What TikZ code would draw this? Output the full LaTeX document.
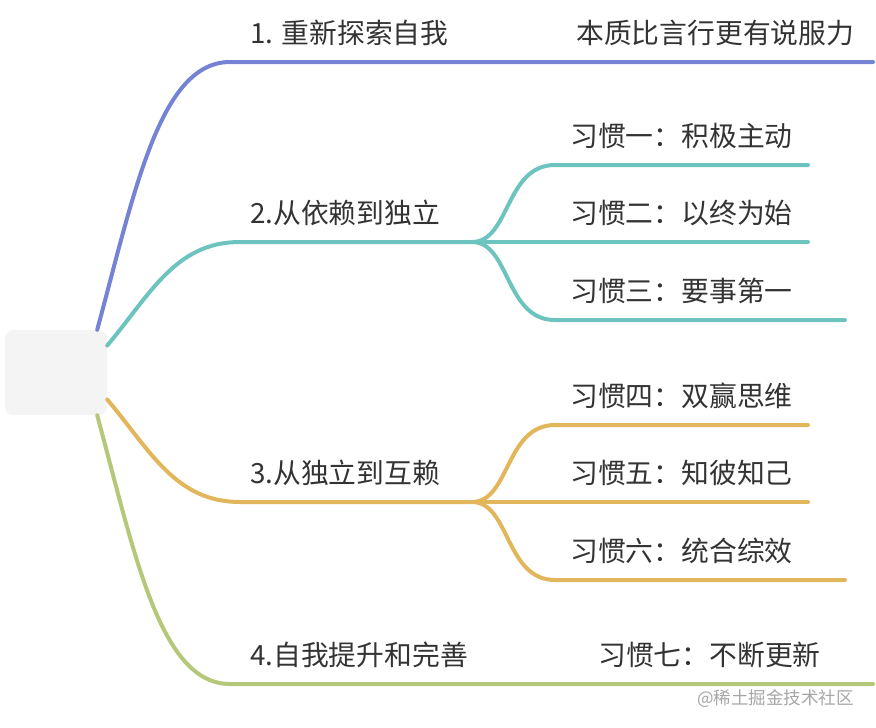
\documentclass[tikz,border=0pt]{standalone}
\usepackage{fontspec}
\usepackage{tikz}
\usetikzlibrary{calc, positioning}
\setmainfont{Noto Sans CJK SC}
\definecolor{inkDark}{HTML}{333333}
\definecolor{rootGrey}{HTML}{F4F4F4}
\definecolor{wmGrey}{HTML}{A6A6A6}
\definecolor{lineBlue}{HTML}{7483D4}
\definecolor{lineTeal}{HTML}{6DC3BE}
\definecolor{lineGold}{HTML}{E2B65A}
\definecolor{lineGreen}{HTML}{B5C87A}
\tikzset{
  rootbox/.style = {fill=rootGrey, rounded corners=8pt, minimum width=102pt,
                    minimum height=85pt, inner sep=0pt},
  topic/.style   = {anchor=base west, inner sep=0pt, text=inkDark,
                    font=\fontsize{27.8}{30}\selectfont},
  wmtext/.style  = {anchor=base west, inner sep=0pt, text=wmGrey,
                    font=\fontsize{17.5}{20}\selectfont},
  br/.style      = {line width=4pt, line cap=round}
}

\begin{document}
\begin{tikzpicture}[x=1pt, y=-1pt]
  \useasboundingbox (0,0) rectangle (876,728);

  \node[rootbox] (root) at (56,372.5) {};

  % main branches
  \coordinate (j1) at (230,62);   \coordinate (e1) at (873,62);
  \coordinate (j2) at (472,242);
  \coordinate (j3) at (472,502);
  \coordinate (j4) at (230,684);  \coordinate (e4) at (873,684);

  \draw[br, lineBlue] ([xshift=-10pt]root.north east)
    .. controls (135,190) and (160,62) .. (j1) -- (e1);
  \draw[br, lineTeal] ([yshift=27pt]root.east)
    .. controls (150,295) and (175,242) .. (240,242) -- (j2);
  \draw[br, lineGold] ([yshift=-27pt]root.east)
    .. controls (150,450) and (175,502) .. (240,502) -- (j3);
  \draw[br, lineGreen] ([xshift=-10pt]root.south east)
    .. controls (135,555) and (160,684) .. (j4) -- (e4);

  % sub branches
  \coordinate (h1) at (808,165);  \coordinate (h2) at (808,242);  \coordinate (h3) at (845,320);
  \coordinate (h4) at (808,425);  \coordinate (h5) at (808,502);  \coordinate (h6) at (845,580);

  \draw[br, lineTeal] (j2) .. controls (510,242) and (505,165) .. (555,165) -- (h1);
  \draw[br, lineTeal] (j2) -- (h2);
  \draw[br, lineTeal] (j2) .. controls (510,242) and (505,320) .. (555,320) -- (h3);
  \draw[br, lineGold] (j3) .. controls (510,502) and (505,425) .. (555,425) -- (h4);
  \draw[br, lineGold] (j3) -- (h5);
  \draw[br, lineGold] (j3) .. controls (510,502) and (505,580) .. (555,580) -- (h6);

  % texts
  \node[topic] (t1) at (250,43) {1. 重新探索自我};
  \node[topic] (t2) at (250,223) {2.从依赖到独立};
  \node[topic] (t3) at (250,483) {3.从独立到互赖};
  \node[topic] (t4) at (250,665) {4.自我提升和完善};

  \node[topic] (n1) at (576,43) {本质比言行更有说服力};
  \node[topic] (n2) at (570,146) {习惯一：积极主动};
  \node[topic] (n3) at (570,223) {习惯二：以终为始};
  \node[topic] (n4) at (570,301) {习惯三：要事第一};
  \node[topic] (n5) at (570,406) {习惯四：双赢思维};
  \node[topic] (n6) at (570,483) {习惯五：知彼知己};
  \node[topic] (n7) at (570,561) {习惯六：统合综效};
  \node[topic] (n8) at (598,665) {习惯七：不断更新};

  \node[wmtext] (wm) at (697,704) {@稀土掘金技术社区};
\end{tikzpicture}
\end{document}
